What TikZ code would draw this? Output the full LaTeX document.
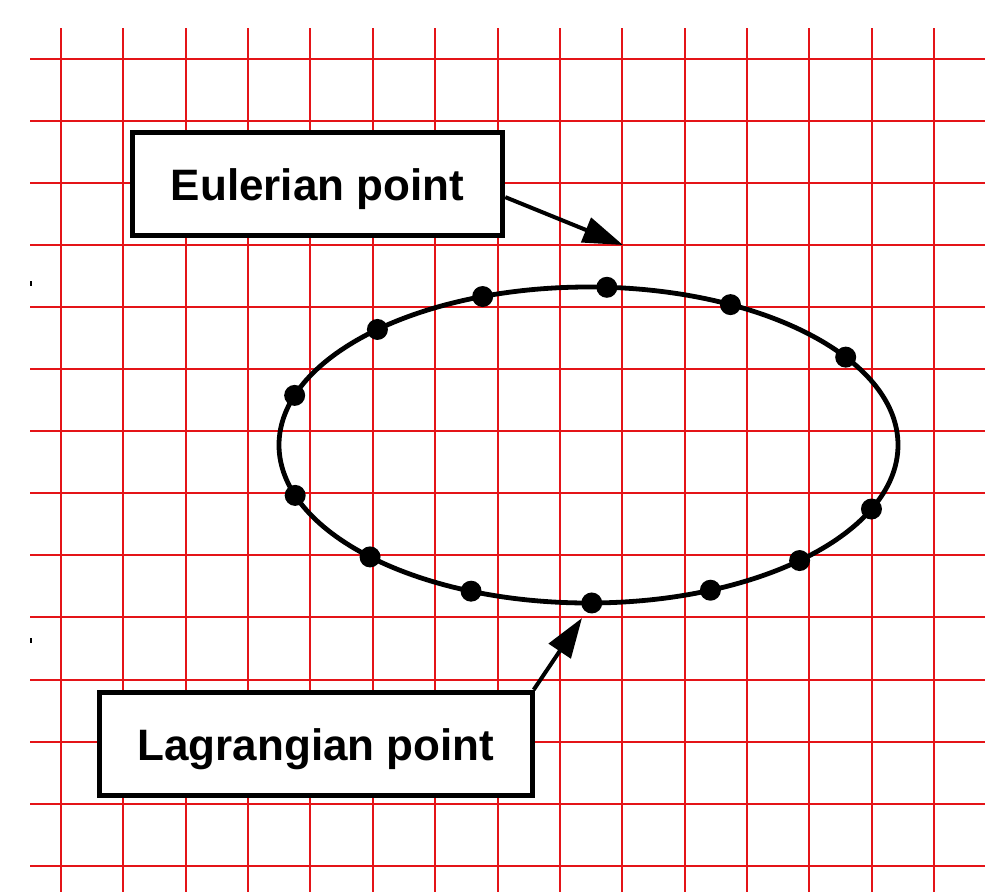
\documentclass[tikz,border=0pt]{standalone}
\usepackage{fontspec}
\setmainfont{Liberation Sans}
\usetikzlibrary{arrows.meta,calc}
\definecolor{gridred}{RGB}{228,20,24}
\tikzset{
  gridline/.style={draw=gridred, line width=2pt},
  labelbox/.style={draw=black, fill=white, line width=5.5pt, minimum height=103pt,
    inner sep=0pt, text height=32pt, text depth=0pt, font=\bfseries\fontsize{44}{50}\selectfont},
  pointer/.style={draw=black, line width=4pt, -{Triangle[length=40pt,width=26pt]}},
  lagdot/.style={circle, fill=black, inner sep=0pt, minimum size=21pt},
  loop/.style={draw=black, line width=4.8pt},
  tick/.style={draw=black, line width=1.5pt}
}
\begin{document}
\begin{tikzpicture}[x=1pt,y=-1pt]
\useasboundingbox (0,0) rectangle (985,892);
% grid
\foreach \k in {0,...,13} {
  \draw[gridline] (30,{58.5+62.1*\k}) -- (985,{58.5+62.1*\k});
}
\foreach \k in {0,...,14} {
  \draw[gridline] ({61+62.36*\k},28) -- ({61+62.36*\k},892);
}
% small ticks at the left margin
\draw[tick] (31,281) -- (31,286);
\draw[tick] (31,638) -- (31,643);
% the loop of Lagrangian points
\coordinate (c) at (588.5,445);
\draw[loop] (c) ellipse [x radius=309.5, y radius=158];
\foreach \t [count=\i] in {198.3,227.0,250.0,273.4,297.3,326.2,23.9,47.0,66.8,89.4,112.3,134.9,161.4} {
  \node[lagdot] (d\i) at ($(c)+({309.5*cos(\t)},{158*sin(\t)})$) {};
}
% labels
\node[labelbox, minimum width=370pt] (eul) at (317.5,184) {Eulerian point};
\node[labelbox, minimum width=433pt] (lag) at (316,744) {Lagrangian point};
\coordinate (etip) at (623,245);
\coordinate (ltip) at (582,618);
\draw[pointer] (eul.-4) -- (etip);
\draw[pointer] (lag.14) -- (ltip);
\end{tikzpicture}
\end{document}
